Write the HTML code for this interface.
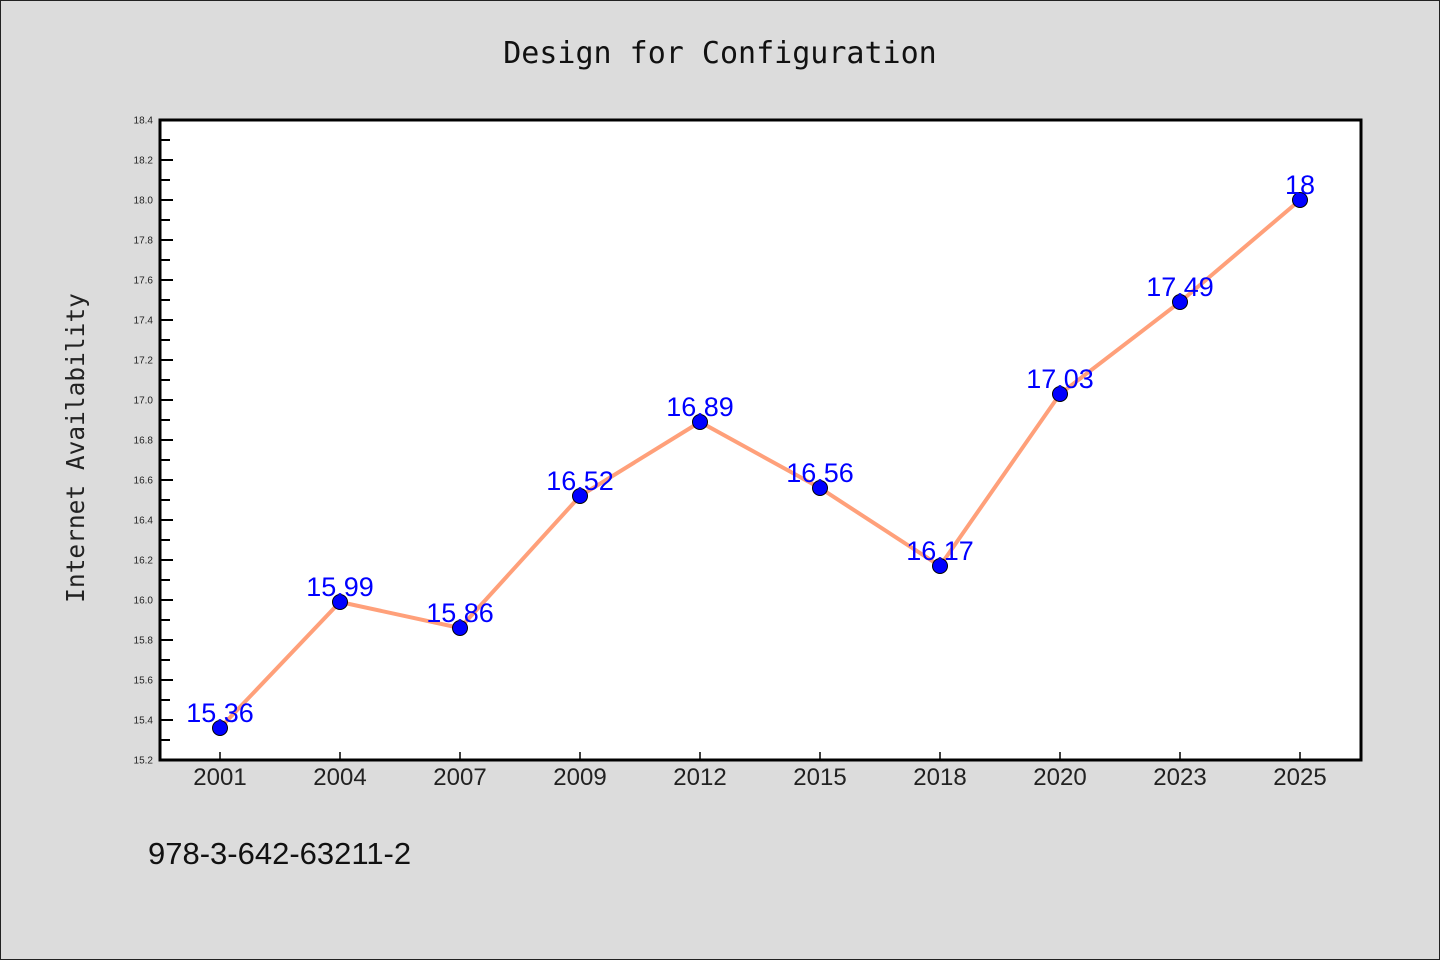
<!DOCTYPE html>
<html><head><meta charset="utf-8"><style>
body{margin:0;background:#dcdcdc}
svg{display:block}
text{font-family:"WenQuanYi Zen Hei","Liberation Sans",sans-serif}
</style></head><body>
<svg width="1440" height="960" viewBox="0 0 1440 960">
<rect x="0.5" y="0.5" width="1439" height="959" fill="#dcdcdc" stroke="#222"/>
<text x="720" y="63" text-anchor="middle" font-size="30" style="font-family:'DejaVu Sans Mono',monospace" fill="#111">Design for Configuration</text>
<rect x="160" y="120" width="1201" height="640" fill="#fff"/>
<g id="yaxis"></g>
<g id="xaxis"></g>
<g id="series"></g>
<rect x="160" y="120" width="1201" height="640" fill="none" stroke="#000" stroke-width="3"/>
<text transform="translate(84,448) rotate(-90)" text-anchor="middle" font-size="24.5" style="font-family:'DejaVu Sans Mono',monospace" fill="#222">Internet Availability</text>
<text x="148" y="864" font-size="31" fill="#111">978-3-642-63211-2</text>
</svg>
<script>
const categories=["2001","2004","2007","2009","2012","2015","2018","2020","2023","2025"];
const values=[15.36,15.99,15.86,16.52,16.89,16.56,16.17,17.03,17.49,18];
const valueLabels=["15.36","15.99","15.86","16.52","16.89","16.56","16.17","17.03","17.49","18"];
const yTicks=[15.2,15.4,15.6,15.8,16.0,16.2,16.4,16.6,16.8,17.0,17.2,17.4,17.6,17.8,18.0,18.2,18.4];
const NS="http://www.w3.org/2000/svg";
const yMin=15.2,yMax=18.4,plotTop=120,plotBot=760;
function y(v){return plotBot-(v-yMin)/(yMax-yMin)*(plotBot-plotTop);}
function x(i){return 220+i*(1300-220)/(categories.length-1);}
function mk(t,a,p){const e=document.createElementNS(NS,t);for(const k in a)e.setAttribute(k,a[k]);p.appendChild(e);return e;}
const ya=document.getElementById('yaxis'),xa=document.getElementById('xaxis'),s=document.getElementById('series');
yTicks.forEach((v,i)=>{
 const yy=y(v);
 const t=mk('line',{x1:160,x2:173,y1:yy,y2:yy,stroke:'#000','stroke-width':2},ya);
 
 
 const l=mk('text',{x:153,y:yy+3.5,'text-anchor':'end','font-size':10,fill:'#222'},ya);
 l.textContent=v.toFixed(1);
 
 
 if(i<yTicks.length-1){const ym=y(v+0.1);
  const m=mk('line',{x1:160,x2:170,y1:ym,y2:ym,stroke:'#000','stroke-width':2},ya);
  
  }
});
categories.forEach((c,i)=>{
 const t=mk('line',{x1:x(i),x2:x(i),y1:760,y2:752,stroke:'#000','stroke-width':1.5},xa);
 
 
 const l=mk('text',{x:x(i),y:785,'text-anchor':'middle','font-size':24,fill:'#222'},xa);
 l.textContent=c;
 
 
});
const line=mk('polyline',{points:values.map((v,i)=>x(i)+','+y(v)).join(' '),fill:'none',stroke:'#ffa07a','stroke-width':4},s);


values.forEach((v,i)=>{
 const c=mk('circle',{cx:x(i),cy:y(v),r:7.5,fill:'#0000ff',stroke:'#000','stroke-width':1},s);
 
 
});
values.forEach((v,i)=>{
 const l=mk('text',{x:x(i),y:y(v)-6,'text-anchor':'middle','font-size':27,fill:'#0000ff'},s);
 l.textContent=valueLabels[i];
 
 
});
</script>
</body></html>
